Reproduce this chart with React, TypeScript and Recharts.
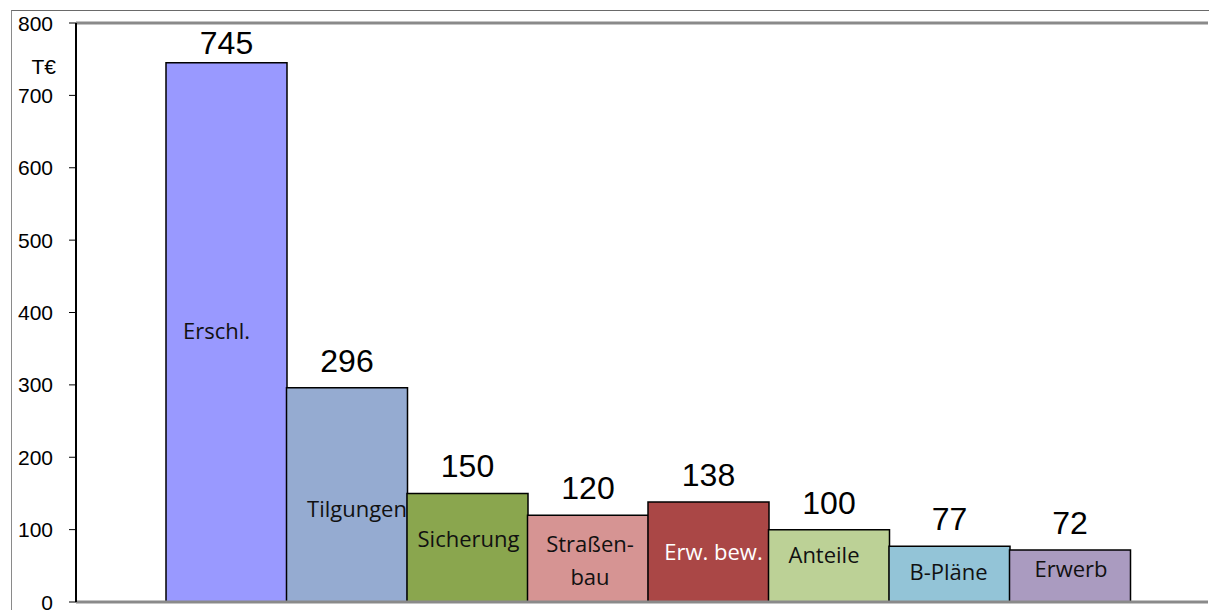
import { BarChart, Bar, XAxis, YAxis, Cell, LabelList, ReferenceLine } from 'recharts';

// Kategorien und Werte (T€)
const categories = ['Erschl.', 'Tilgungen', 'Sicherung', 'Straßen-\nbau', 'Erw. bew.', 'Anteile', 'B-Pläne', 'Erwerb'];
const values = [745, 296, 150, 120, 138, 100, 77, 72];
const yTicks = [0, 100, 200, 300, 400, 500, 600, 700, 800];
const unitLabel = 'T€';

const COLORS = ['#9999ff', '#95abd1', '#8aa64e', '#d69493', '#aa4746', '#bcd196', '#93c4d7', '#aa9bc0'];
const TEXT_COLORS = ['#111', '#111', '#111', '#111', '#fff', '#111', '#111', '#111'];
// kleine Verschiebungen der Beschriftung in den Balken (px), wie im Original
const NUDGE = [
  { dx: -10, dy: -2 },
  { dx: 10, dy: 13 },
  { dx: 1, dy: -10 },
  { dx: 2, dy: 1 },
  { dx: 5, dy: -1 },
  { dx: -5, dy: -12 },
  { dx: -1, dy: -3 },
  { dx: 1, dy: -8 },
];

const data = categories.map((name, i) => ({ name, value: values[i] }));

const W = 1209;
const H = 610;
const ARIAL = 'Liberation Sans, Arial, sans-serif';

function ValueLabel(props: any) {
  const { x, y, width, value } = props;
  const baseline = Math.max(y - 16, 54);
  return (
    <text x={x + width / 2} y={baseline} textAnchor="middle" fontFamily={ARIAL} fontSize={32} fill="#000">
      {value}
    </text>
  );
}

function NameLabel(props: any) {
  const { x, y, width, height, index } = props;
  const lines = String(categories[index]).split('\n');
  const n = NUDGE[index];
  const cx = x + width / 2 + n.dx;
  const cy = y + height / 2 + n.dy;
  const lh = 33;
  const top = cy - ((lines.length - 1) * lh) / 2;
  return (
    <text textAnchor="middle" fontFamily="Open Sans" fontSize={22} fill={TEXT_COLORS[index]}>
      {lines.map((l, k) => (
        <tspan key={k} x={cx} y={top + k * lh} dominantBaseline="central">
          {l}
        </tspan>
      ))}
    </text>
  );
}

function YTick(props: any) {
  const { x, y, payload } = props;
  return (
    <text x={x} y={y} textAnchor="end" dominantBaseline="central" fontFamily={ARIAL} fontSize={21} fill="#000">
      {payload.value}
    </text>
  );
}

export default function App() {
  return (
    <div style={{ position: 'absolute', left: 0, top: 0, width: W, height: H, background: '#fff' }}>
      <div
        style={{
          position: 'absolute',
          left: 11,
          top: 10,
          right: 0,
          bottom: 0,
          borderLeft: '1px solid #8a8a8a',
          borderTop: '1px solid #6a6a6a',
        }}
      />
      <div
        style={{
          position: 'absolute',
          left: 0,
          width: 56,
          top: 54,
          textAlign: 'right',
          fontFamily: ARIAL,
          fontSize: 21,
          lineHeight: '26px',
          color: '#000',
        }}
      >
        {unitLabel}
      </div>
      <BarChart
        width={W}
        height={H}
        data={data}
        margin={{ top: 23, right: 1, left: 0, bottom: 0 }}
        barCategoryGap={0}
        style={{ position: 'absolute', left: 0, top: 0 }}
      >
        <ReferenceLine y={800} stroke="#8a8a8a" strokeWidth={3} />
        <XAxis
          dataKey="name"
          height={8}
          tick={false}
          tickLine={false}
          axisLine={{ stroke: '#8a8a8a', strokeWidth: 3 }}
          padding={{ left: 90, right: 78 }}
        />
        <YAxis
          width={76}
          domain={[0, 800]}
          ticks={yTicks}
          interval={0}
          tickSize={7}
          tickMargin={16}
          axisLine={{ stroke: '#000', strokeWidth: 2 }}
          tickLine={{ stroke: '#000' }}
          tick={<YTick />}
        />
        <Bar dataKey="value" stroke="#000" strokeWidth={1.5} isAnimationActive={false}>
          {data.map((d, i) => (
            <Cell key={d.name} fill={COLORS[i]} />
          ))}
          <LabelList dataKey="value" content={ValueLabel} />
          <LabelList dataKey="name" content={NameLabel} />
        </Bar>
      </BarChart>
    </div>
  );
}
